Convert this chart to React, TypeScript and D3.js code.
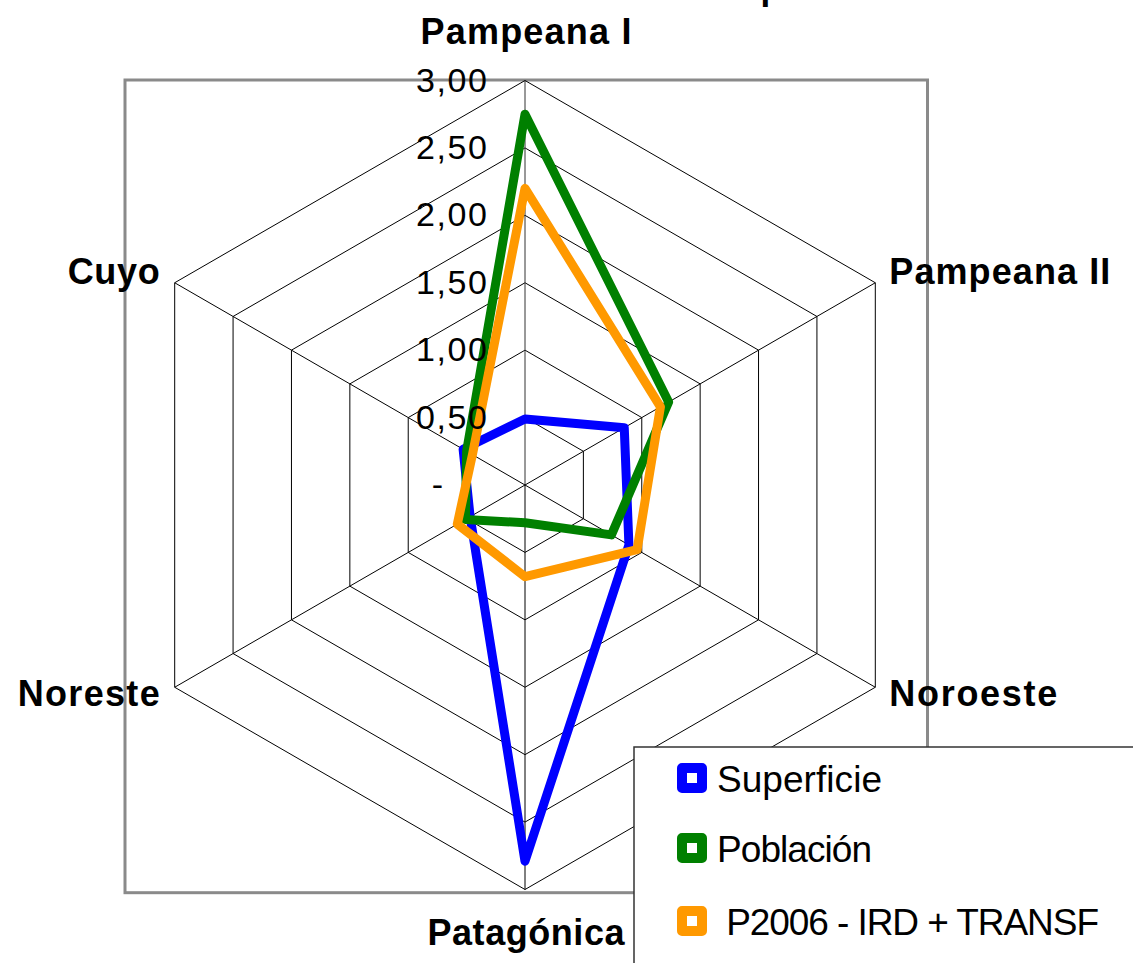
import React from "react";
import * as d3 from "d3";

const categories = ["Pampeana I", "Pampeana II", "Noroeste", "Patagónica", "Noreste", "Cuyo"];
const superficie = [0.49, 0.85, 0.89, 2.79, 0.47, 0.53];
const poblacion = [2.75, 1.23, 0.74, 0.28, 0.51, 0.5];
const p2006 = [2.2, 1.16, 0.96, 0.68, 0.58, 0.45];
const tickValues = [0, 0.5, 1, 1.5, 2, 2.5, 3];
const tickLabels = ["-", "0,50", "1,00", "1,50", "2,00", "2,50", "3,00"];
const seriesNames = ["Superficie", "Población", " P2006 - IRD + TRANSF"];
const seriesColors = ["#0000FF", "#008000", "#FF9900"];
const seriesData = [superficie, poblacion, p2006];

const W = 1133;
const H = 963;
const cx = 525;
const cy = 485;
const R = 404.5;
const FONT = "'Liberation Sans', Arial, Helvetica, sans-serif";

const catWidths = [211, 221, 168, 197, 142, 92];
const legendWidths = [165, 155, 371];

export default function App() {
  const r = d3.scaleLinear().domain([0, 3]).range([0, R]);
  const ang = d3
    .scaleLinear()
    .domain([0, categories.length])
    .range([0, 2 * Math.PI]);

  const pt = (i: number, v: number): [number, number] => {
    const a = ang(i);
    return [cx + Math.sin(a) * r(v), cy - Math.cos(a) * r(v)];
  };

  const radial = d3
    .lineRadial<number>()
    .angle((_, i) => ang(i))
    .radius((d) => r(d))
    .curve(d3.curveLinearClosed);

  const ringPath = (v: number) => radial(categories.map(() => v)) as string;

  const catLabel = (i: number) => {
    const [vx, vy] = pt(i, 3);
    const a = ang(i);
    const s = Math.sin(a);
    const c = Math.cos(a);
    let x = vx;
    let y = vy;
    let anchor: "start" | "middle" | "end" = "middle";
    if (Math.abs(s) < 0.01) {
      y = c > 0 ? vy - 37 : vy + 55;
      x = vx + 1;
    } else if (s > 0) {
      anchor = "start";
      x = vx + 14;
      y = c > 0 ? vy + 1 : vy + 19;
    } else {
      anchor = "end";
      x = vx - 15;
      y = c > 0 ? vy + 1 : vy + 19;
    }
    return { x, y, anchor };
  };

  const legendX = 634;
  const legendY = 747;
  const legendRowY = [778, 848, 921];

  return (
    <svg
      width={W}
      height={H}
      viewBox={`0 0 ${W} ${H}`}
      style={{ position: "absolute", left: 0, top: 0, display: "block", background: "#fff" }}
    >
      <rect x={0} y={0} width={W} height={H} fill="#fff" />
      {/* cut-off title descender */}
      <text x={760.5} y={0} fontFamily={FONT} fontWeight="bold" fontSize={35} fill="#000">
        p
      </text>
      {/* plot area frame */}
      <rect x={125} y={80} width={802.5} height={812.7} fill="none" stroke="#8a8a8a" strokeWidth={3} />
      <g transform={`translate(${cx},${cy})`}>
        {tickValues.slice(1).map((v) => (
          <path key={"ring" + v} d={ringPath(v)} fill="none" stroke="#000" strokeWidth={1} />
        ))}
      </g>
      {categories.map((c, i) => {
        const [x, y] = pt(i, 3);
        return <line key={"sp" + c} x1={cx} y1={cy} x2={x} y2={y} stroke={i === 0 ? "#333" : "#000"} strokeWidth={1} />;
      })}
      <g transform={`translate(${cx},${cy})`}>
        {seriesData.map((d, k) => (
          <path
            key={"s" + k}
            d={radial(d) as string}
            fill="none"
            stroke={seriesColors[k]}
            strokeWidth={9}
            strokeLinejoin="round"
          />
        ))}
      </g>
      {tickValues.map((v, i) => (
        <text
          key={"t" + v}
          x={v === 0 ? 443 : 487}
          y={cy - r(v) + 11}
          textAnchor="end"
          fontFamily={FONT}
          fontSize={34}
          fill="#000"
          textLength={v === 0 ? undefined : 71}
          lengthAdjust="spacing"
        >
          {tickLabels[i]}
        </text>
      ))}
      {categories.map((c, i) => {
        const { x, y, anchor } = catLabel(i);
        const w = catWidths[i];
        const x0 = anchor === "start" ? x : anchor === "end" ? x - w : x - w / 2;
        return (
          <text
            key={"c" + c}
            x={x0}
            y={y}
            fontFamily={FONT}
            fontWeight="bold"
            fontSize={36}
            fill="#000"
            textLength={w}
            lengthAdjust="spacing"
          >
            {c}
          </text>
        );
      })}
      <rect x={legendX} y={legendY} width={W} height={H} fill="#fff" stroke="#333" strokeWidth={1.5} />
      {seriesNames.map((n, k) => (
        <g key={"l" + k}>
          <rect
            x={682}
            y={legendRowY[k] - 10}
            width={20}
            height={20}
            fill="#fff"
            stroke={seriesColors[k]}
            strokeWidth={10}
            strokeLinejoin="round"
          />
          <text
            x={717}
            y={legendRowY[k] + 14}
            fontFamily={FONT}
            fontSize={37}
            fill="#000"
            textLength={n.startsWith(" ") ? legendWidths[k] + 11 : legendWidths[k]}
            lengthAdjust="spacing"
            style={{ whiteSpace: "pre" }}
          >
            {n}
          </text>
        </g>
      ))}
    </svg>
  );
}
